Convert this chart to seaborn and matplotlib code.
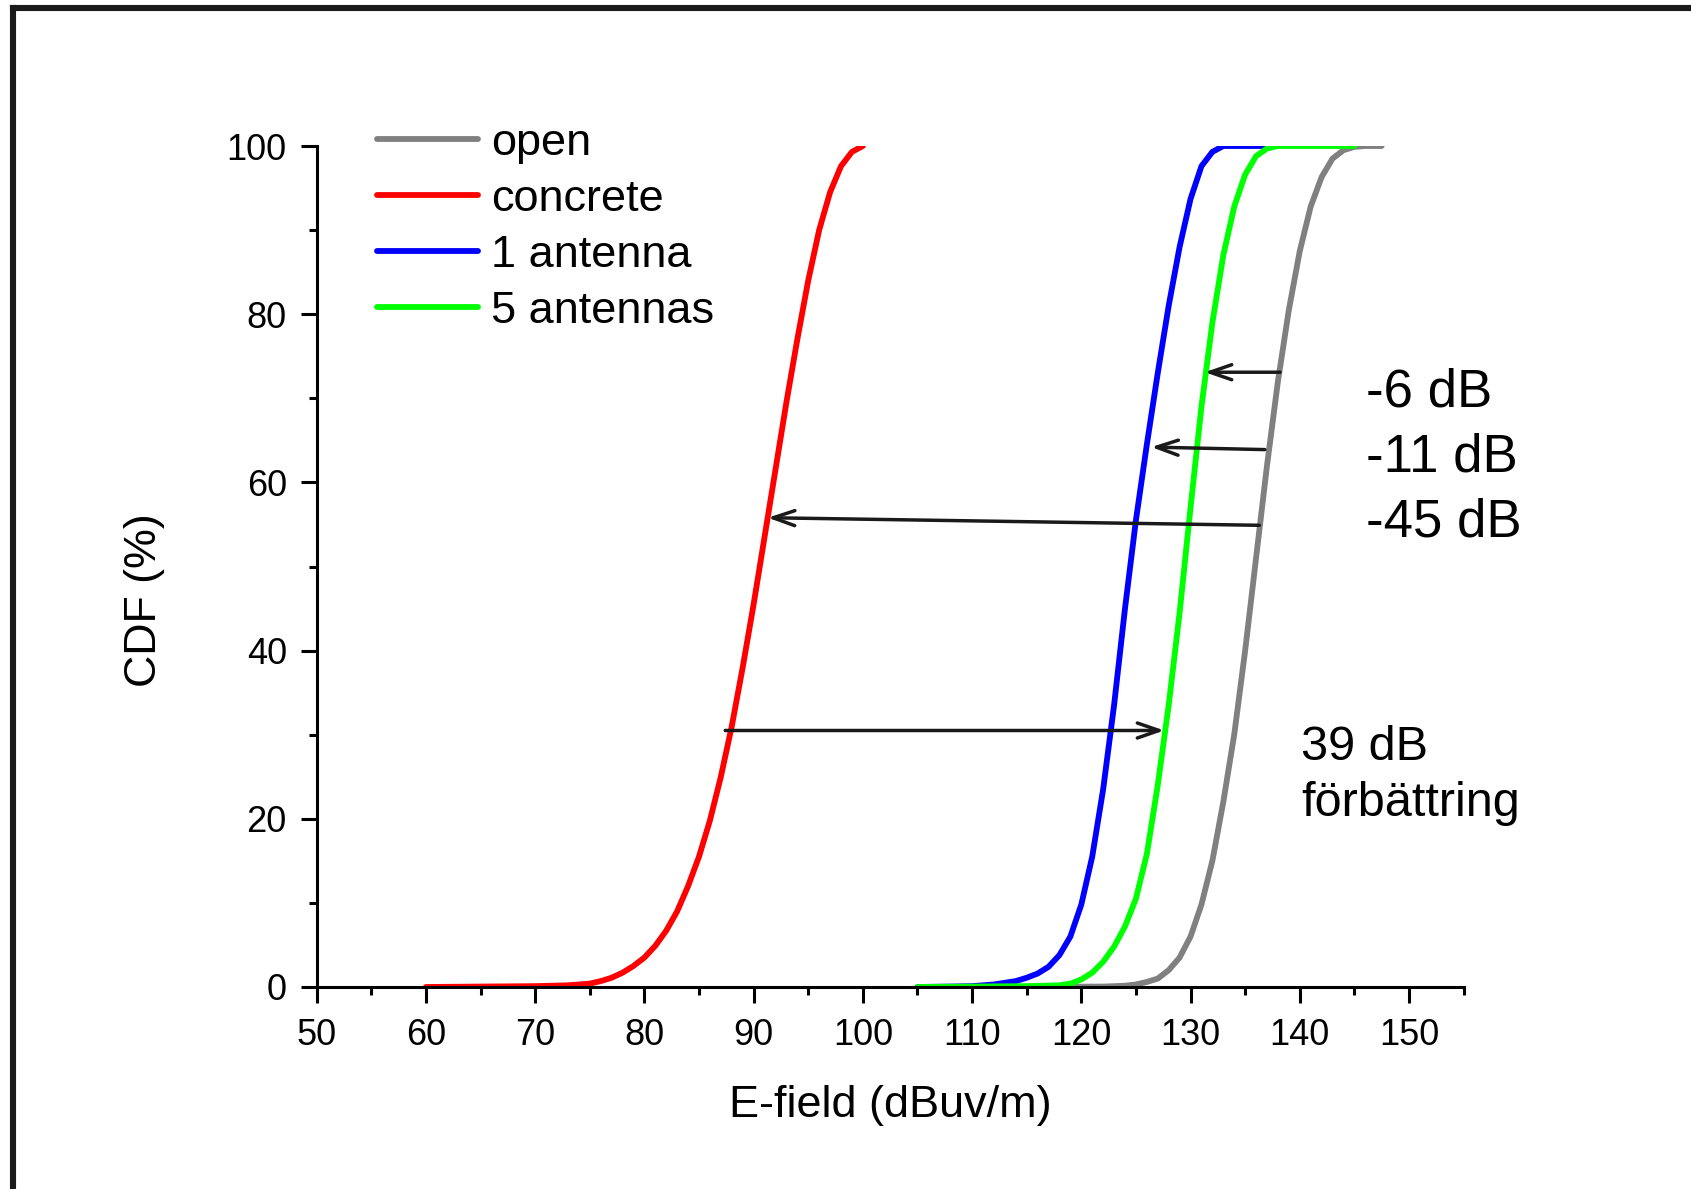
import matplotlib
matplotlib.use("Agg")
import matplotlib.pyplot as plt
from matplotlib.lines import Line2D
import seaborn as sns
import pandas as pd

# ---- data (E-field in dBuV/m, CDF in %) ----
open_x = [110, 122, 124, 125, 126, 127, 128, 129, 130, 131, 132, 133, 134, 135, 136,
          137, 138, 139, 140, 141, 142, 143, 144, 145, 146, 147.5]
open_y = [0, 0.05, 0.15, 0.3, 0.6, 1.0, 2.0, 3.5, 6.0, 9.8, 15, 22, 30, 40, 51,
          62, 72, 80.5, 87.5, 92.8, 96.3, 98.5, 99.5, 99.9, 100, 100]

concrete_x = [60, 65, 70, 73, 75, 76, 77, 78, 79, 80, 81, 82, 83, 84, 85, 86, 87, 88,
              89, 90, 91, 92, 93, 94, 95, 96, 97, 98, 99, 100]
concrete_y = [0, 0.05, 0.1, 0.2, 0.4, 0.7, 1.1, 1.7, 2.5, 3.5, 4.9, 6.7, 9.0, 12.0,
              15.5, 19.8, 25.0, 31.0, 38.0, 45.5, 53.5, 61.5, 69.5, 77, 84, 90, 94.5,
              97.6, 99.3, 100]

ant1_x = [105, 108, 110, 112, 114, 115, 116, 117, 118, 119, 120, 121, 122, 123, 124,
          125, 126, 127, 128, 129, 130, 131, 132, 133, 137.5]
ant1_y = [0, 0.05, 0.1, 0.3, 0.7, 1.1, 1.6, 2.4, 3.8, 6.0, 9.8, 15.5, 23.5, 33.5, 45,
          55.5, 64.5, 73, 81, 88, 93.7, 97.6, 99.3, 100, 100]

ant5_x = [105, 115, 118, 119, 120, 121, 122, 123, 124, 125, 126, 127, 128, 129, 130,
          131, 132, 133, 134, 135, 136, 137, 138, 145]
ant5_y = [0, 0.1, 0.2, 0.4, 0.9, 1.7, 3.0, 4.8, 7.2, 10.5, 15.8, 24, 33.5, 44.5, 57,
          69, 79, 87, 92.8, 96.6, 98.8, 99.7, 100, 100]

series_names = ["open", "concrete", "1 antenna", "5 antennas"]
series_colors = ["#808080", "#ff0000", "#0000ff", "#00ff00"]

x_ticks = [50, 60, 70, 80, 90, 100, 110, 120, 130, 140, 150]
y_ticks = [0, 20, 40, 60, 80, 100]

# arrows: (x_start, y_start, x_end, y_end)
arrow_6 = (138.2, 73.1, 131.3, 73.1)
arrow_11 = (136.8, 63.9, 126.4, 64.2)
arrow_45 = (136.3, 54.9, 91.3, 55.8)
arrow_39 = (87.4, 30.5, 127.6, 30.5)
arrows = [arrow_6, arrow_11, arrow_45, arrow_39]

# ---- styling ----
sns.set_theme(style="ticks")
plt.rcParams["font.family"] = ["Liberation Sans", "DejaVu Sans"]
plt.rcParams["axes.linewidth"] = 2.2

W, H = 1691, 1189
fig = plt.figure(figsize=(W / 100, H / 100), dpi=100)
ax = fig.add_axes([316.7 / W, 1 - 987 / H, (1463.6 - 316.7) / W, (987 - 146) / H])

frames = []
for name, xs, ys in zip(series_names,
                        [open_x, concrete_x, ant1_x, ant5_x],
                        [open_y, concrete_y, ant1_y, ant5_y]):
    frames.append(pd.DataFrame({"E": xs, "CDF": ys, "series": name}))
df = pd.concat(frames, ignore_index=True)

sns.lineplot(data=df, x="E", y="CDF", hue="series", hue_order=series_names,
             palette=series_colors, linewidth=4.2, sort=False, estimator=None,
             ax=ax, legend=False)

ax.set_xlim(50, 155)
ax.set_ylim(0, 100)
ax.set_xticks(x_ticks)
ax.set_yticks(y_ticks)
ax.set_xticks([55 + 10 * i for i in range(11)], minor=True)
ax.set_yticks([10, 30, 50, 70, 90], minor=True)
ax.tick_params(axis="both", which="major", direction="out", length=11.5, width=2.2,
               color="black", labelsize=26, labelcolor="black")
ax.tick_params(axis="x", which="major", pad=11)
ax.tick_params(axis="y", which="major", pad=10)
ax.tick_params(axis="both", which="minor", direction="out", length=5.8, width=2.2,
               color="black")
for s in ["top", "right"]:
    ax.spines[s].set_visible(False)
for s in ["left", "bottom"]:
    ax.spines[s].set_color("black")
    ax.spines[s].set_linewidth(2.2)

ax.set_xlabel("E-field (dBuv/m)", fontsize=32.4, color="black")
ax.set_ylabel("CDF (%)", fontsize=32.2, color="black")
ax.xaxis.set_label_coords(0.5, -0.117)
ax.yaxis.set_label_coords(-0.132, 0.46)

# legend
handles = [Line2D([0], [0], color=c, lw=4.2) for c in series_colors]
leg = ax.legend(handles, series_names, loc="upper left",
                bbox_to_anchor=(377 / W, 1 - 123 / H), bbox_transform=fig.transFigure,
                frameon=False, fontsize=32.5, handlelength=2.24, handletextpad=0.29,
                labelspacing=0.33, borderpad=0, borderaxespad=0)
for t in leg.get_texts():
    t.set_color("black")

# arrows
for (x0, y0, x1, y1) in arrows:
    ax.annotate("", xy=(x1, y1), xytext=(x0, y0),
                arrowprops=dict(arrowstyle="->,head_length=1.3,head_width=0.45",
                                color="#1a1a1a", lw=2.5, shrinkA=0, shrinkB=0))

# text annotations
ax.text(146.1, 69.0, "-6 dB", fontsize=38, color="black", va="baseline", ha="left")
ax.text(146.1, 61.3, "-11 dB", fontsize=38, color="black", va="baseline", ha="left")
ax.text(146.1, 53.6, "-45 dB", fontsize=38, color="black", va="baseline", ha="left")
ax.text(140.1, 27.0, "39 dB", fontsize=35, color="black", va="baseline", ha="left")
ax.text(140.1, 20.3, "förbättring", fontsize=35, color="black", va="baseline", ha="left")

# outer frame (left and top edges visible in the reference)
fig.add_artist(Line2D([13 / W, 13 / W], [0, 1 - 7.5 / H], transform=fig.transFigure,
                      color="#1a1a1a", lw=4.4, solid_capstyle="projecting"))
fig.add_artist(Line2D([13 / W, 1], [1 - 7.5 / H, 1 - 7.5 / H], transform=fig.transFigure,
                      color="#1a1a1a", lw=4.4, solid_capstyle="projecting"))

fig.savefig("out.png", dpi=100, facecolor="white")
